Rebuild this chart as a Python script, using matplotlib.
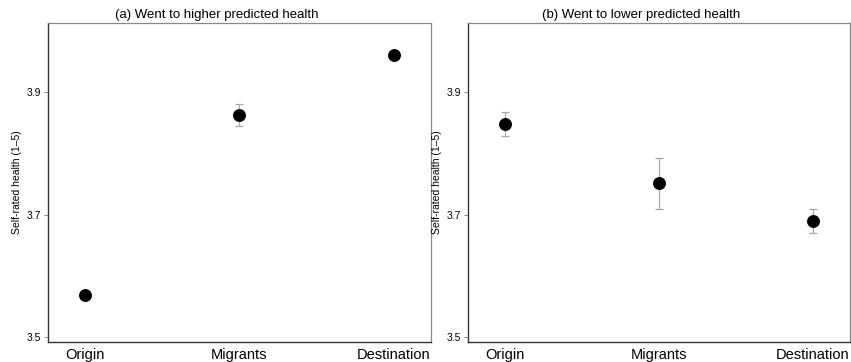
import matplotlib
matplotlib.use("Agg")
import matplotlib.pyplot as plt

categories = ["Origin", "Migrants", "Destination"]
titles = ["(a) Went to higher predicted health", "(b) Went to lower predicted health"]
higher_mean = [3.568, 3.862, 3.960]
higher_lo = [3.565, 3.845, 3.958]
higher_hi = [3.571, 3.880, 3.962]
lower_mean = [3.848, 3.751, 3.689]
lower_lo = [3.829, 3.710, 3.670]
lower_hi = [3.867, 3.792, 3.709]
yticks = [3.5, 3.7, 3.9]

plt.rcParams['font.family'] = ['Arial', 'Liberation Sans', 'DejaVu Sans']

fig = plt.figure(figsize=(8.51, 3.62), dpi=100)
W, H = 851, 362
panels = [(48, 431), (468, 850)]
title_centers = [217, 641]
top, bottom = 23, 342

data = [(higher_mean, higher_lo, higher_hi), (lower_mean, lower_lo, lower_hi)]
for i, ((x0, x1), (m, lo, hi)) in enumerate(zip(panels, data)):
    ax = fig.add_axes([x0 / W, 1 - bottom / H, (x1 - x0) / W, (bottom - top) / H])
    xs = list(range(len(categories)))
    yerr = [[mm - l for mm, l in zip(m, lo)], [h - mm for mm, h in zip(m, hi)]]
    ax.errorbar(xs, m, yerr=yerr, fmt='none', ecolor='#a8a8a8', elinewidth=0.9,
                capsize=3, capthick=0.9, zorder=2)
    ax.plot(xs, m, 'o', color='black', markersize=8.3, zorder=3)
    ax.set_xlim(-0.24, 2.24)
    ax.set_ylim(3.492, 4.013)
    ax.set_yticks(yticks)
    ax.set_yticklabels([f"{v:.1f}" for v in yticks], fontsize=7.5)
    ax.set_xticks(xs)
    ax.set_xticklabels(categories, fontsize=10.5)
    ax.tick_params(axis='x', length=0, pad=4)
    ax.tick_params(axis='y', length=3, width=0.6, color='#777777', pad=2)
    for s in ['top', 'right']:
        ax.spines[s].set_color('#888888')
        ax.spines[s].set_linewidth(0.9)
    for s in ['left', 'bottom']:
        ax.spines[s].set_color('#333333')
        ax.spines[s].set_linewidth(1.0)
    ax.set_ylabel("Self-rated health (1–5)", fontsize=7.5, labelpad=3)
    fig.text(title_centers[i] / W, 1 - 15 / H, titles[i], fontsize=9.5,
             ha='center', va='center')

fig.savefig("out.png", dpi=100)
